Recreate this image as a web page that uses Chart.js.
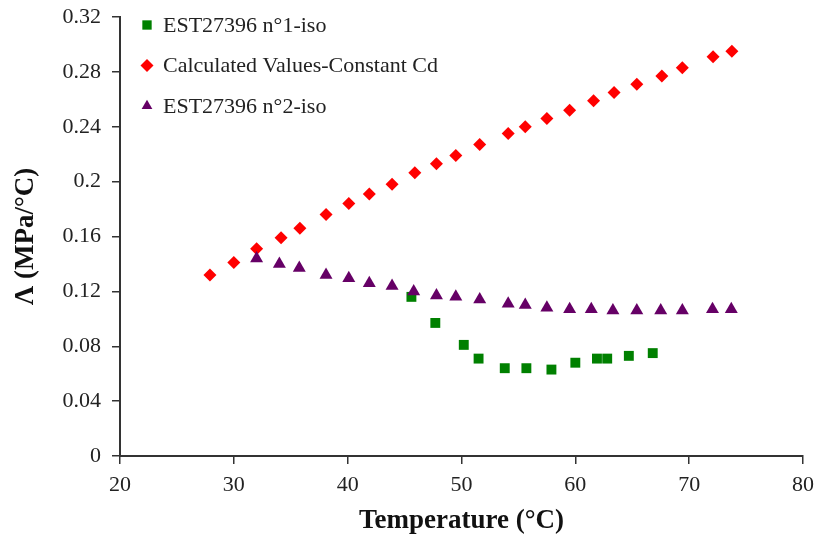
<!DOCTYPE html>
<html>
<head>
<meta charset="utf-8">
<script src="https://cdn.jsdelivr.net/npm/chart.js@4"></script>
<style>
  html, body { margin: 0; padding: 0; background: #fff; }
  #wrap { width: 819px; height: 545px; position: relative; }
</style>
</head>
<body>
<div id="wrap"><canvas id="chart"></canvas></div>
<script>
// values
const seriesLabels = ['EST27396 n°1-iso', 'Calculated Values-Constant Cd', 'EST27396 n°2-iso'];

const iso1Temp = [45.6, 47.7, 50.2, 51.5, 53.8, 55.7, 57.9, 60.0, 61.9, 62.8, 64.7, 66.8];
const iso1Val  = [0.116, 0.097, 0.081, 0.071, 0.064, 0.064, 0.063, 0.068, 0.071, 0.071, 0.073, 0.075];

const calcTemp = [27.9, 30.0, 32.0, 34.15, 35.8, 38.1, 40.1, 41.9, 43.9, 45.9, 47.8, 49.5,
                  51.6, 54.1, 55.6, 57.5, 59.5, 61.6, 63.4, 65.4, 67.6, 69.4, 72.1, 73.75];
const calcVal  = [0.132, 0.141, 0.151, 0.159, 0.166, 0.176, 0.184, 0.191, 0.198, 0.2065, 0.213, 0.219,
                  0.227, 0.235, 0.240, 0.246, 0.252, 0.259, 0.265, 0.271, 0.277, 0.283, 0.291, 0.295];

const iso2Temp = [32.0, 34.0, 35.75, 38.1, 40.1, 41.9, 43.9, 45.8, 47.8, 49.5, 51.6,
                  54.1, 55.6, 57.5, 59.5, 61.4, 63.3, 65.4, 67.5, 69.4, 72.05, 73.7];
const iso2Val  = [0.144, 0.140, 0.137, 0.132, 0.1295, 0.126, 0.124, 0.120, 0.117, 0.116, 0.114,
                  0.111, 0.110, 0.108, 0.107, 0.107, 0.106, 0.106, 0.106, 0.106, 0.107, 0.107];

const xTickLabels = ['20', '30', '40', '50', '60', '70', '80'];
const yTickLabels = ['0', '0.04', '0.08', '0.12', '0.16', '0.2', '0.24', '0.28', '0.32'];

const toPoints = (xs, ys) => xs.map((x, i) => ({ x: x, y: ys[i] }));

const serif = '"Liberation Serif", "Times New Roman", serif';
const textColor = '#222';
const axisColor = '#333';

// legend drawn inside the plot area, top left
const insideLegend = {
    id: 'insideLegend',
    afterDraw(chart) {
        const ctx = chart.ctx;
        const area = chart.chartArea;
        const sizes = { rect: 6.6, rectRot: 6.5, triangle: 6.2 };
        ctx.save();
        ctx.font = '22px ' + serif;
        ctx.textBaseline = 'middle';
        chart.data.datasets.forEach((ds, i) => {
            const y = area.top + 8 + i * 40.5;
            ctx.fillStyle = ds.backgroundColor;
            Chart.helpers.drawPoint(ctx, {
                pointStyle: ds.pointStyle,
                radius: sizes[ds.pointStyle],
                rotation: 0,
                borderWidth: 0
            }, area.left + 27, y);
            ctx.fillStyle = textColor;
            ctx.fillText(ds.label, area.left + 43, y + 1);
        });
        ctx.restore();
    }
};

new Chart(document.getElementById('chart'), {
    type: 'scatter',
    data: {
        datasets: [
            {
                label: seriesLabels[0],
                data: toPoints(iso1Temp, iso1Val),
                pointStyle: 'rect',
                pointRadius: 7,
                backgroundColor: '#008000',
                borderWidth: 0,
                order: 2
            },
            {
                label: seriesLabels[1],
                data: toPoints(calcTemp, calcVal),
                pointStyle: 'rectRot',
                pointRadius: 6.5,
                backgroundColor: '#ff0000',
                borderWidth: 0,
                order: 1
            },
            {
                label: seriesLabels[2],
                data: toPoints(iso2Temp, iso2Val),
                pointStyle: 'triangle',
                pointRadius: 7.5,
                backgroundColor: '#660066',
                borderWidth: 0,
                order: 0
            }
        ]
    },
    options: {
        responsive: true,
        maintainAspectRatio: false,
        animation: false,
        layout: {
            padding: { top: 17, right: 16, bottom: 0, left: 0 }
        },
        scales: {
            x: {
                type: 'linear',
                min: 20,
                max: 80,
                afterFit: (scale) => {
                    scale.height = 89;
                    scale.paddingLeft = 0;
                    scale.paddingRight = 0;
                },
                ticks: {
                    stepSize: 10,
                    color: textColor,
                    padding: 8,
                    font: { family: serif, size: 22 },
                    callback: (value, index) => xTickLabels[index]
                },
                grid: {
                    drawOnChartArea: false,
                    drawTicks: true,
                    tickLength: 8,
                    color: axisColor,
                    lineWidth: 1.5
                },
                border: { display: true, color: axisColor, width: 2 },
                title: {
                    display: true,
                    text: 'Temperature (°C)',
                    color: '#111',
                    font: { family: serif, size: 27, weight: 'bold' },
                    padding: { top: 0, bottom: 8 }
                }
            },
            y: {
                type: 'linear',
                min: 0,
                max: 0.32,
                afterFit: (scale) => {
                    scale.width = 120;
                    scale.paddingTop = 0;
                    scale.paddingBottom = 0;
                },
                ticks: {
                    stepSize: 0.04,
                    color: textColor,
                    padding: 11,
                    font: { family: serif, size: 22 },
                    callback: (value, index) => yTickLabels[index]
                },
                grid: {
                    drawOnChartArea: false,
                    drawTicks: true,
                    tickLength: 8,
                    color: axisColor,
                    lineWidth: 1.5
                },
                border: { display: true, color: axisColor, width: 2 },
                title: {
                    display: true,
                    text: 'Λ (MPa/°C)',
                    color: '#111',
                    font: { family: serif, size: 27, weight: 'bold' },
                    padding: { top: 10, bottom: 0 }
                }
            }
        },
        plugins: {
            legend: { display: false },
            tooltip: { enabled: false }
        }
    },
    plugins: [insideLegend]
});
</script>
</body>
</html>
